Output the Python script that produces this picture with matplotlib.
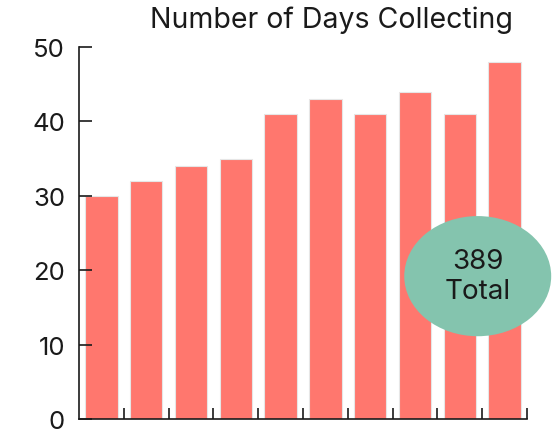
import matplotlib.pyplot as plt
from matplotlib.patches import Ellipse

# data
categories = list(range(10))
days = [30, 32, 34, 35, 41, 43, 41, 44, 41, 48]
yticks = [0, 10, 20, 30, 40, 50]
total = sum(days)

plt.rcParams['font.family'] = ['Inter', 'DejaVu Sans']

fig = plt.figure(figsize=(5.54, 4.31), dpi=100)
ax = fig.add_axes([79 / 554, 11 / 431, 448 / 554, 372 / 431])

ax.bar(categories, days, width=0.72, color='#ff776e', edgecolor='#e6e6e6', linewidth=0.8)

ax.set_xlim(-0.5, len(categories) - 0.5)
ax.set_ylim(0, 50)
ax.set_yticks(yticks)
ax.set_xticks([c + 0.5 for c in categories])
ax.set_xticklabels([])
ax.tick_params(axis='y', direction='in', length=9, width=1.2, labelsize=18.5, pad=10, colors='#1a1a1a')
ax.tick_params(axis='x', direction='in', length=8, width=1.2, colors='#1a1a1a')
for s in ['top', 'right']:
    ax.spines[s].set_visible(False)
for s in ['left', 'bottom']:
    ax.spines[s].set_linewidth(1.2)
    ax.spines[s].set_color('#1a1a1a')

fig.text(332 / 554, 1 - 20 / 431, 'Number of Days Collecting', ha='center', va='center',
         fontsize=20.5, color='#1a1a1a')

ell = Ellipse((0.89, 0.384), 0.328, 0.323, transform=ax.transAxes,
              facecolor='#84c4ae', edgecolor='none', clip_on=False, zorder=5)
ax.add_patch(ell)
ax.text(0.89, 0.384, f'{total}\nTotal', transform=ax.transAxes, ha='center', va='center',
        fontsize=20, color='#1a1a1a', linespacing=1.2, zorder=6)

fig.savefig('out.png', dpi=100)
